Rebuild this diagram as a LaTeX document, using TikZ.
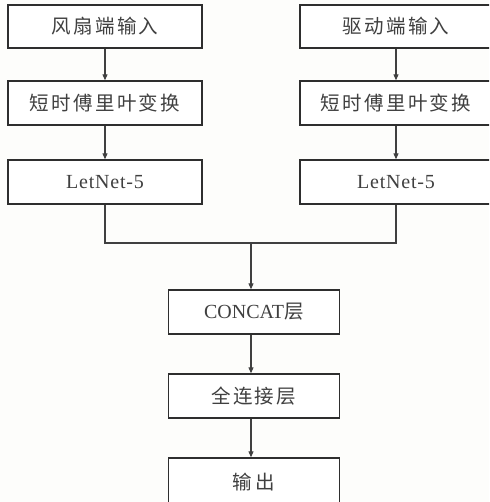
\documentclass[tikz,border=0pt]{standalone}
\usepackage{fontspec}
\setmainfont{Liberation Serif}
\newfontfamily\cjk{Noto Sans CJK SC}
\usetikzlibrary{arrows.meta}
\definecolor{bg}{HTML}{FDFDFB}
\definecolor{edge}{HTML}{2E2E2E}
\definecolor{ink}{HTML}{404040}
\newcommand\cg{\hspace{2.3pt}}
\newcommand\cjkf{\cjk\fontsize{19.5}{19.5}\selectfont}
\tikzset{
  box/.style={draw=edge, line width=1.4pt, fill=white, inner sep=0pt,
    minimum height=44pt, text=ink, font=\fontsize{20}{20}\selectfont},
  lbox/.style={box, minimum width=194pt},
  rbox/.style={box, minimum width=192pt},
  cbox/.style={box, minimum width=171pt},
  conn/.style={draw=ink, line width=1.1pt},
  arr/.style={conn, -{Triangle[length=6pt,width=5pt]}}
}
\begin{document}
\begin{tikzpicture}[x=1pt,y=-1pt]
\path[use as bounding box, clip] (0,0) rectangle (489,502);
\fill[bg] (0,0) rectangle (489,502);
\node[lbox, minimum height=43pt] (f1) at (105,26.5) {\cjkf 风\cg 扇\cg 端\cg 输\cg 入};
\node[lbox] (f2) at (105,103) {\cjkf 短\cg 时\cg 傅\cg 里\cg 叶\cg 变\cg 换};
\node[lbox] (f3) at (105,182) {\addfontfeature{LetterSpace=4}LetNet-5};
\node[rbox, minimum height=43pt] (d1) at (396,26.5) {\cjkf 驱\cg 动\cg 端\cg 输\cg 入};
\node[rbox] (d2) at (396,103) {\cjkf 短\cg 时\cg 傅\cg 里\cg 叶\cg 变\cg 换};
\node[rbox] (d3) at (396,182) {\addfontfeature{LetterSpace=4}LetNet-5};
\node[cbox] (c) at (253.8,312) {CONCAT{\cjkf 层}};
\node[cbox] (fc) at (253.8,396) {\cjkf 全\cg 连\cg 接\cg 层};
\node[cbox, minimum height=50pt] (o) at (253.8,483) {\raisebox{3pt}{\cjkf 输\hspace{4pt}出}};
\coordinate (m) at (251,243);
\draw[arr] (f1) -- (f2);
\draw[arr] (f2) -- (f3);
\draw[arr] (d1) -- (d2);
\draw[arr] (d2) -- (d3);
\draw[conn] (f3.south) |- (m);
\draw[conn] (d3.south) |- (m);
\draw[arr] (m) -- (m |- c.north);
\draw[arr] (m |- c.south) -- (m |- fc.north);
\draw[arr] (m |- fc.south) -- (m |- o.north);
\end{tikzpicture}
\end{document}
